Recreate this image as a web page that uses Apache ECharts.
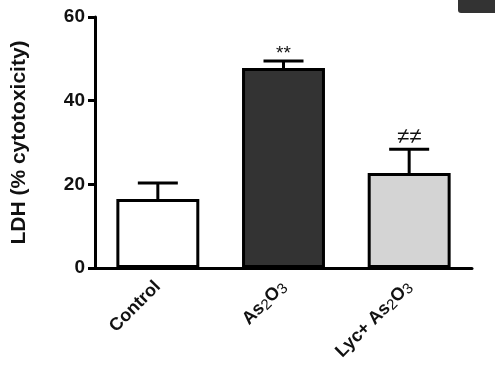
<!DOCTYPE html>
<html>
<head>
<meta charset="utf-8">
<script src="https://cdn.jsdelivr.net/npm/echarts@6/dist/echarts.min.js"></script>
<style>
html,body{margin:0;padding:0;background:#fff;}
#chart{width:495px;height:367px;}
</style>
</head>
<body>
<div id="chart"></div>
<script>
const categories = ['Control', 'As2O3', 'Lyc+ As2O3'];
const means = [16.5, 47.8, 22.7];
const errors = [3.8, 1.7, 5.7];
const annotations = ['', '**', '≠≠'];
const barColors = ['#ffffff', '#333333', '#d4d4d4'];
const yTicks = [0, 20, 40, 60];

const chart = echarts.init(document.getElementById('chart'));
const font = '"Liberation Sans", Arial, sans-serif';

function fmtCat(v) {
  if (v === 'As2O3') return '{b|As}{s|2}{b|O}{s|3}';
  if (v === 'Lyc+ As2O3') return '{b|Lyc+ As}{s|2}{b|O}{s|3}';
  return '{b|' + v + '}';
}

chart.setOption({
  animation: false,
  backgroundColor: '#ffffff',
  grid: { left: 95, right: 23, top: 17, bottom: 99 },
  xAxis: {
    type: 'category',
    data: categories,
    axisLine: { lineStyle: { color: '#000', width: 3 } },
    axisTick: { alignWithLabel: true, length: 6, lineStyle: { color: '#000', width: 3 } },
    axisLabel: {
      rotate: 45,
      margin: 16,
      formatter: fmtCat,
      rich: {
        b: { fontFamily: font, fontWeight: 'bold', fontSize: 18, color: '#111' },
        s: { fontFamily: font, fontWeight: 'normal', fontSize: 15, color: '#111', verticalAlign: 'bottom', padding: [6, 0, 0, 0] }
      }
    }
  },
  yAxis: {
    type: 'value',
    min: 0, max: 60, interval: 20,
    name: 'LDH (% cytotoxicity)',
    nameLocation: 'middle',
    nameGap: 65,
    nameTextStyle: { fontFamily: font, fontWeight: 'bold', fontSize: 21, color: '#111' },
    splitLine: { show: false },
    axisLine: { show: true, lineStyle: { color: '#000', width: 3 } },
    axisTick: { show: true, length: 7, lineStyle: { color: '#000', width: 3 } },
    axisLabel: {
      margin: 10,
      fontFamily: font, fontWeight: 'bold', fontSize: 19, color: '#111',
      formatter: v => yTicks.includes(v) ? String(v) : ''
    }
  },
  series: [
    {
      type: 'bar',
      barWidth: '66%',
      data: means.map((v, i) => ({
        value: v,
        itemStyle: { color: barColors[i], borderColor: '#000', borderWidth: 3 }
      })),
      z: 2
    },
    {
      type: 'custom',
      z: 3,
      data: means.map((v, i) => [i, v, v + errors[i]]),
      renderItem: function (params, api) {
        const idx = params.dataIndex;
        const base = api.coord([api.value(0), api.value(1)]);
        const top = api.coord([api.value(0), api.value(2)]);
        const half = 20;
        const st = { stroke: '#000', lineWidth: 3 };
        const isNe = annotations[idx] === '≠≠';
        return {
          type: 'group',
          children: [
            { type: 'line', shape: { x1: base[0], y1: base[1], x2: top[0], y2: top[1] }, style: st },
            { type: 'line', shape: { x1: top[0] - half, y1: top[1], x2: top[0] + half, y2: top[1] }, style: st },
            { type: 'text', x: top[0], y: top[1] + (isNe ? -1 : 2),
              style: { text: annotations[idx], fill: '#111', font: (isNe ? '22px ' : '19px ') + font, align: 'center', verticalAlign: 'bottom' } }
          ]
        };
      }
    }
  ],
  graphic: [
    { type: 'rect', left: 458, top: -4, shape: { width: 45, height: 17, r: 3 }, style: { fill: '#333333' } }
  ]
});
</script>
</body>
</html>
